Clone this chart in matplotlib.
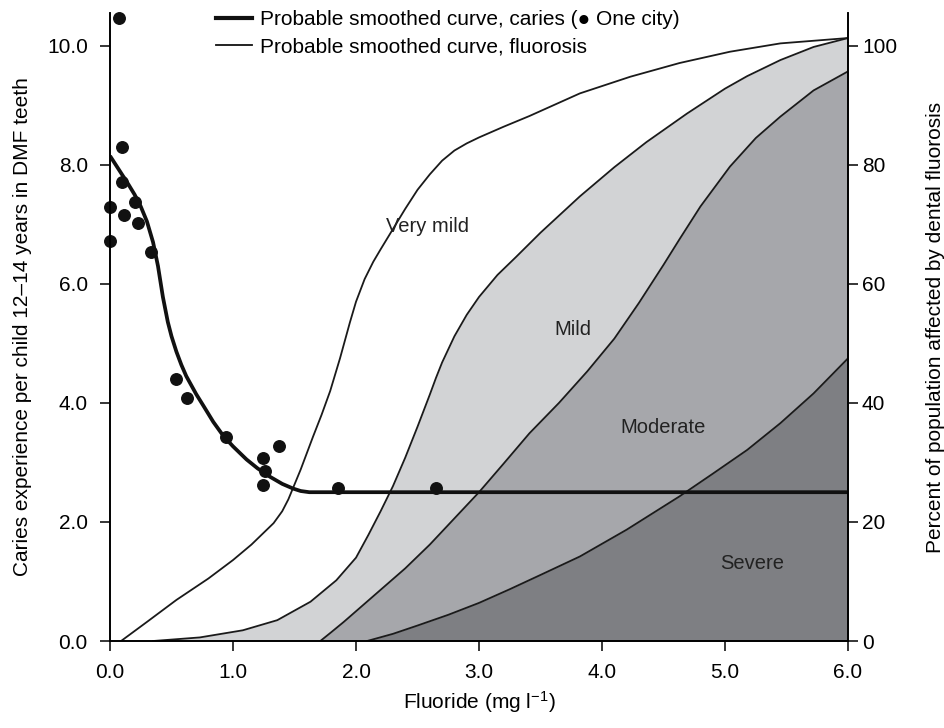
import matplotlib
matplotlib.use('Agg')
import matplotlib.pyplot as plt
from matplotlib.lines import Line2D

plt.rcParams['font.family'] = ['Liberation Sans', 'DejaVu Sans']
plt.rcParams['mathtext.fontset'] = 'custom'
plt.rcParams['mathtext.rm'] = 'Liberation Sans'
plt.rcParams['mathtext.default'] = 'regular'

# caries: one point per city (fluoride mg/l, DMF teeth)
city_fluoride = [0.07, 0.10, 0.10, 0.0, 0.11, 0.20, 0.23, 0.0, 0.33,
                 0.54, 0.63, 0.94, 1.37, 1.24, 1.26, 1.24, 1.85, 2.65]
city_dmf = [10.47, 8.30, 7.71, 7.29, 7.16, 7.38, 7.03, 6.72, 6.54,
            4.40, 4.08, 3.43, 3.28, 3.08, 2.86, 2.62, 2.57, 2.57]

# smoothed caries curve
caries_x = [0.0, 0.05, 0.10, 0.15, 0.20, 0.25, 0.30, 0.35, 0.39, 0.43,
            0.47, 0.50, 0.54, 0.58, 0.62, 0.70, 0.76, 0.84, 0.92, 1.00,
            1.11, 1.20, 1.30, 1.40, 1.49, 1.55, 1.62, 6.0]
caries_y = [8.15, 7.99, 7.83, 7.67, 7.50, 7.30, 7.05, 6.70, 6.30, 5.78,
            5.36, 5.12, 4.86, 4.64, 4.45, 4.15, 3.95, 3.68, 3.45, 3.27,
            3.05, 2.90, 2.76, 2.64, 2.56, 2.52, 2.50, 2.50]

# fluorosis curves (percent of population), cumulative from severe upwards
verymild_x = [0.09, 0.30, 0.54, 0.80, 1.0, 1.15, 1.33, 1.40, 1.45, 1.55,
              1.65, 1.72, 1.79, 1.87, 1.95, 2.0, 2.07, 2.14, 2.2, 2.3,
              2.4, 2.5, 2.6, 2.7, 2.8, 2.9, 3.0, 3.2, 3.41, 3.82,
              4.23, 4.63, 5.04, 5.45, 6.0]
verymild_y = [0, 3.2, 6.9, 10.5, 13.6, 16.2, 19.8, 21.8, 23.8, 28.8,
              34.3, 38.0, 42.0, 47.5, 53.5, 57.0, 60.8, 63.7, 65.8, 69.2,
              72.6, 75.8, 78.4, 80.7, 82.4, 83.6, 84.6, 86.4, 88.2, 92.0,
              94.8, 97.1, 99.0, 100.4, 101.3]

mild_x = [0.35, 0.73, 1.08, 1.36, 1.63, 1.84, 2.0, 2.1, 2.2, 2.3,
          2.4, 2.5, 2.6, 2.65, 2.7, 2.8, 2.9, 3.0, 3.15, 3.3,
          3.5, 3.82, 4.1, 4.36, 4.69, 5.0, 5.18, 5.45, 5.72, 6.0]
mild_y = [0, 0.6, 1.8, 3.5, 6.6, 10.2, 14.0, 17.8, 21.8, 26.0,
          30.8, 36.0, 41.4, 44.2, 46.8, 51.2, 54.8, 57.8, 61.5, 64.5,
          68.6, 74.7, 79.6, 83.8, 88.6, 92.8, 94.9, 97.6, 99.8, 101.3]

moderate_x = [1.71, 1.8, 1.9, 2.0, 2.1, 2.2, 2.3, 2.4, 2.6, 2.8,
              3.0, 3.2, 3.41, 3.65, 3.88, 4.1, 4.3, 4.5, 4.63, 4.8,
              5.04, 5.25, 5.45, 5.72, 6.0]
moderate_y = [0, 1.5, 3.2, 5.0, 6.8, 8.6, 10.4, 12.2, 16.2, 20.6,
              25.0, 29.8, 34.9, 40.0, 45.3, 50.8, 56.8, 63.2, 67.5, 73.0,
              79.7, 84.5, 88.1, 92.5, 95.7]

severe_x = [2.09, 2.3, 2.5, 2.75, 3.0, 3.25, 3.5, 3.82, 4.2, 4.63,
            4.9, 5.18, 5.45, 5.72, 6.0]
severe_y = [0, 1.2, 2.6, 4.4, 6.4, 8.7, 11.1, 14.2, 18.7, 24.3,
            28.1, 32.1, 36.6, 41.6, 47.5]

region_names = ['Very mild', 'Mild', 'Moderate', 'Severe']

fig = plt.figure(figsize=(9.45, 7.28), dpi=100)
ax = fig.add_axes([0.1164, 0.1195, 0.781, 0.8626])
ax2 = ax.twinx()

ax.set_xlim(0, 6)
ax.set_ylim(0, 10.55)
ax2.set_ylim(0, 105.5)

# shaded areas, drawn bottom-up so darker ones sit on top
ax2.fill_between(mild_x, mild_y, 0, color='#d2d3d5', lw=0)
ax2.fill_between(moderate_x, moderate_y, 0, color='#a6a7ab', lw=0)
ax2.fill_between(severe_x, severe_y, 0, color='#7e7f83', lw=0)
for cx, cy in [(verymild_x, verymild_y), (mild_x, mild_y),
               (moderate_x, moderate_y), (severe_x, severe_y)]:
    ax2.plot(cx, cy, color='#1a1a1a', lw=1.3)

# caries on top of the shading
ax.set_zorder(ax2.get_zorder() + 1)
ax.patch.set_visible(False)
ax.plot(caries_x, caries_y, color='#111111', lw=2.7, solid_capstyle='butt')
ax.plot(city_fluoride, city_dmf, 'o', color='#111111', ms=8.3, clip_on=False)

label_pos = [(2.58, 69.7), (3.76, 52.3), (4.50, 35.8), (5.22, 13.1)]
for name, (lx, ly) in zip(region_names, label_pos):
    ax2.text(lx, ly, name, fontsize=14.5, ha='center', va='center', color='#222222')

# axes cosmetics
for a in (ax, ax2):
    a.spines['top'].set_visible(False)
    for s in ('left', 'right', 'bottom'):
        a.spines[s].set_linewidth(1.2)
ax.set_xticks([0, 1, 2, 3, 4, 5, 6])
ax.set_xticklabels(['0.0', '1.0', '2.0', '3.0', '4.0', '5.0', '6.0'])
ax.set_yticks([0, 2, 4, 6, 8, 10])
ax.set_yticklabels(['0.0', '2.0', '4.0', '6.0', '8.0', '10.0'])
ax2.set_yticks([0, 20, 40, 60, 80, 100])
ax.tick_params(axis='x', direction='out', length=7, width=1.1, pad=9, labelsize=15)
ax.tick_params(axis='y', direction='out', length=7, width=1.1, pad=9, labelsize=15)
ax2.tick_params(axis='y', direction='out', length=7, width=1.1, pad=3, labelsize=15)

ax.set_xlabel('Fluoride (mg l$^{-1}$)', fontsize=15, labelpad=5)
ax.set_ylabel('Caries experience per child 12\u201314 years in DMF teeth', fontsize=15, labelpad=11)
ax2.set_ylabel('Percent of population affected by dental fluorosis', fontsize=15, labelpad=21)

handles = [Line2D([], [], color='#111111', lw=3.0),
           Line2D([], [], color='#111111', lw=1.3)]
labels = ['Probable smoothed curve, caries (\u25cf One city)',
          'Probable smoothed curve, fluorosis']
ax.legend(handles, labels, loc='upper left', bbox_to_anchor=(0.1436, 1.005),
          frameon=False, fontsize=15, handlelength=1.75, handletextpad=0.35,
          labelspacing=0.4, borderpad=0, borderaxespad=0)

fig.savefig('out.png', dpi=100)
